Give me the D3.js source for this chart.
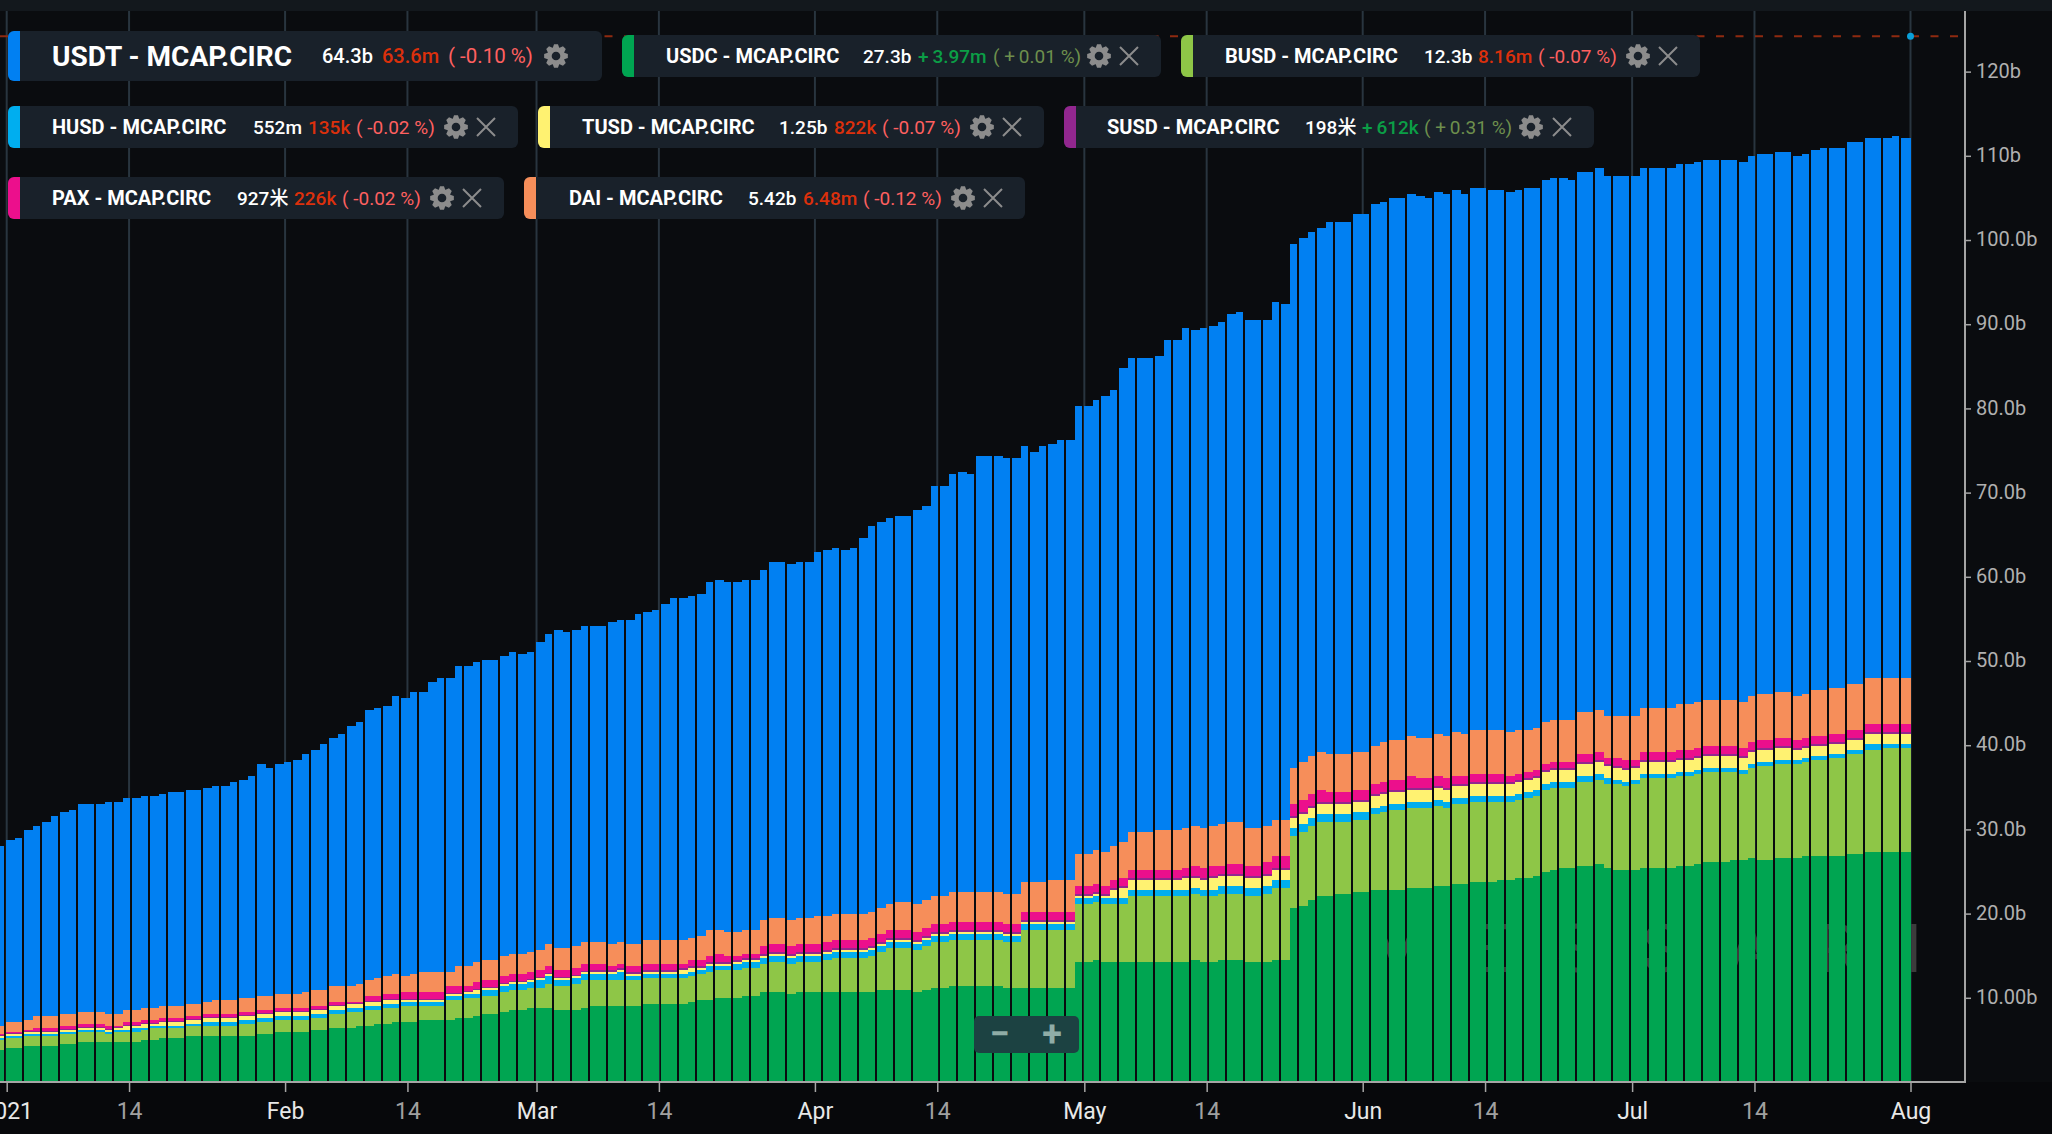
<!DOCTYPE html>
<html>
<head>
<meta charset="utf-8">
<script src="https://cdn.jsdelivr.net/npm/d3@7"></script>
<style>
  html, body { margin: 0; padding: 0; background: #0a0c0f; overflow: hidden; }
  svg { display: block; font-family: Roboto, "Noto Sans CJK SC", sans-serif; }
</style>
</head>
<body>
<svg id="chart" width="2052" height="1134"></svg>
<script>
// Values in billions, one per day from 2020-12-31 to 2021-07-31.
const usdc = [
  3.80,4.04,4.04,4.28,4.28,4.28,4.28,4.51,4.51,4.75,
  4.75,4.75,4.75,4.75,4.75,4.75,4.99,4.99,5.23,5.23,
  5.23,5.46,5.46,5.46,5.46,5.46,5.46,5.46,5.46,5.70,
  5.70,5.94,5.94,5.94,5.94,6.18,6.18,6.41,6.41,6.41,
  6.65,6.65,6.89,6.89,7.13,7.13,7.13,7.36,7.36,7.36,
  7.36,7.60,7.60,7.84,8.08,8.08,8.31,8.55,8.55,8.79,
  8.79,8.79,8.55,8.55,8.55,8.79,9.03,9.03,9.03,9.03,
  9.03,9.03,9.26,9.26,9.26,9.26,9.26,9.50,9.74,9.74,
  9.98,9.98,9.98,10.21,10.21,10.69,10.69,10.69,10.45,10.69,
  10.69,10.69,10.69,10.69,10.69,10.69,10.69,10.69,10.93,10.93,
  10.93,10.93,10.69,10.93,11.16,11.16,11.40,11.40,11.40,11.40,
  11.40,11.40,11.16,11.16,11.16,11.16,11.16,11.16,11.16,11.16,
  14.25,14.25,14.49,14.25,14.25,14.25,14.25,14.25,14.25,14.25,
  14.25,14.25,14.25,14.49,14.25,14.25,14.49,14.49,14.49,14.25,
  14.25,14.25,14.49,14.49,20.66,20.90,21.61,22.09,22.09,22.33,
  22.33,22.56,22.56,22.80,22.80,22.80,22.80,23.04,23.04,23.04,
  23.28,23.28,23.51,23.51,23.75,23.75,23.75,23.99,23.99,24.23,
  24.23,24.46,24.94,25.18,25.41,25.41,25.65,25.65,25.89,25.41,
  25.18,25.18,25.18,25.41,25.41,25.41,25.41,25.65,25.65,25.89,
  26.13,26.13,26.13,26.36,26.36,26.60,26.36,26.36,26.60,26.60,
  26.60,26.84,26.84,26.84,26.84,26.84,27.08,27.08,27.31,27.31,
  27.31,27.31,27.31
];
const busd = [
  1.19,1.19,1.19,1.19,1.19,1.19,1.19,1.19,1.19,1.19,
  1.19,1.19,0.95,1.19,1.19,1.19,1.19,1.43,1.19,1.19,
  1.19,1.19,1.19,1.19,1.19,1.19,1.19,1.43,1.43,1.43,
  1.43,1.43,1.43,1.43,1.43,1.43,1.43,1.66,1.66,1.90,
  1.66,1.90,1.66,1.90,1.66,1.90,1.90,1.66,1.66,1.66,
  2.38,2.14,2.38,2.14,2.14,2.14,2.38,2.38,2.38,2.38,
  2.38,2.85,2.85,2.85,3.09,3.33,3.09,3.09,3.09,3.09,
  3.09,3.09,3.09,3.09,3.09,3.09,3.09,3.09,3.09,3.33,
  3.33,3.33,3.33,3.33,3.33,3.33,3.56,3.56,3.56,3.56,
  3.56,3.56,3.80,4.04,4.04,4.04,4.04,4.28,4.51,4.99,
  4.99,4.99,4.99,5.23,5.46,5.46,5.46,5.46,5.46,5.46,
  5.46,5.46,5.46,5.46,6.89,6.89,6.89,6.89,6.89,6.89,
  6.89,6.89,6.89,6.89,6.89,6.89,7.84,7.84,7.84,7.84,
  7.84,7.84,7.84,7.84,7.84,7.84,7.84,7.84,7.84,7.84,
  7.84,8.08,8.55,8.55,8.55,8.79,8.79,8.79,8.79,8.55,
  8.55,8.55,8.55,9.03,9.26,9.50,9.50,9.50,9.50,9.50,
  9.50,9.26,9.50,9.50,9.50,9.50,9.50,9.26,9.26,9.26,
  9.50,9.50,9.74,9.74,9.50,9.50,9.98,9.98,9.98,9.98,
  10.21,9.98,10.21,10.69,10.69,10.69,10.69,10.69,10.69,10.69,
  10.69,10.69,10.69,10.45,10.21,10.69,11.16,11.16,11.16,11.16,
  11.16,11.16,11.40,11.40,11.64,11.64,11.88,11.88,12.11,12.11,
  12.35,12.35,12.35
];
const husd = [
  0.24,0.24,0.24,0.24,0.24,0.24,0.24,0.24,0.24,0.24,
  0.24,0.24,0.24,0.24,0.24,0.48,0.24,0.24,0.24,0.24,
  0.24,0.24,0.24,0.48,0.48,0.48,0.48,0.48,0.48,0.48,
  0.48,0.48,0.48,0.48,0.48,0.48,0.48,0.48,0.48,0.48,
  0.48,0.48,0.48,0.48,0.48,0.48,0.48,0.48,0.48,0.48,
  0.48,0.48,0.48,0.48,0.71,0.71,0.71,0.71,0.71,0.71,
  0.95,0.95,0.71,0.71,0.71,0.71,0.71,0.71,0.71,0.95,
  0.48,0.48,0.48,0.48,0.48,0.48,0.48,0.48,0.48,0.71,
  0.48,0.48,0.71,0.71,0.71,0.71,0.71,0.71,0.71,0.71,
  0.71,0.71,0.71,0.71,0.71,0.71,0.71,0.71,0.71,0.71,
  0.71,0.71,0.71,0.71,0.71,0.71,0.71,0.71,0.71,0.71,
  0.71,0.71,0.71,0.71,0.71,0.71,0.71,0.71,0.71,0.71,
  0.71,0.71,0.71,0.71,0.71,0.71,0.71,0.71,0.71,0.71,
  0.71,0.71,0.71,0.71,0.71,0.71,0.95,0.95,0.95,0.95,
  0.95,0.95,0.95,0.95,0.95,0.95,0.95,0.95,0.95,0.95,
  0.95,0.95,0.95,0.71,0.71,0.71,0.71,0.71,0.71,0.71,
  0.71,0.71,0.71,0.71,0.71,0.71,0.71,0.71,0.71,0.71,
  0.71,0.71,0.71,0.71,0.71,0.71,0.71,0.71,0.71,0.71,
  0.48,0.48,0.48,0.48,0.48,0.48,0.48,0.48,0.48,0.48,
  0.48,0.48,0.48,0.48,0.48,0.48,0.48,0.48,0.48,0.48,
  0.48,0.48,0.48,0.48,0.48,0.48,0.48,0.48,0.71,0.71,
  0.48,0.48,0.48
];
const tusd = [
  0.24,0.24,0.24,0.24,0.24,0.24,0.24,0.24,0.24,0.24,
  0.24,0.24,0.24,0.24,0.48,0.24,0.48,0.24,0.48,0.48,
  0.48,0.48,0.48,0.48,0.48,0.48,0.48,0.48,0.48,0.48,
  0.48,0.48,0.48,0.48,0.48,0.48,0.48,0.48,0.48,0.48,
  0.48,0.48,0.48,0.48,0.48,0.24,0.24,0.24,0.24,0.24,
  0.24,0.24,0.24,0.48,0.24,0.24,0.24,0.24,0.24,0.24,
  0.24,0.24,0.24,0.24,0.24,0.24,0.24,0.24,0.24,0.24,
  0.24,0.24,0.24,0.24,0.24,0.24,0.48,0.48,0.24,0.24,
  0.24,0.24,0.24,0.24,0.24,0.24,0.24,0.24,0.24,0.24,
  0.24,0.24,0.24,0.24,0.24,0.24,0.24,0.24,0.24,0.24,
  0.24,0.24,0.24,0.24,0.24,0.24,0.24,0.24,0.24,0.24,
  0.24,0.24,0.24,0.24,0.24,0.24,0.24,0.24,0.24,0.24,
  0.24,0.24,0.24,0.24,0.95,1.19,1.19,1.19,1.19,1.19,
  1.19,1.19,1.43,1.19,1.19,1.43,1.19,1.19,1.19,1.19,
  1.19,1.19,1.19,1.19,1.19,1.19,1.19,1.19,1.19,1.19,
  1.19,1.19,1.19,1.43,1.43,1.43,1.43,1.43,1.43,1.43,
  1.43,1.43,1.43,1.43,1.43,1.43,1.43,1.43,1.43,1.43,
  1.43,1.43,1.43,1.43,1.43,1.43,1.43,1.43,1.43,1.43,
  1.43,1.43,1.43,1.43,1.43,1.43,1.43,1.43,1.43,1.43,
  1.43,1.43,1.43,1.43,1.43,1.43,1.43,1.43,1.43,1.43,
  1.19,1.19,1.19,1.19,1.19,1.19,1.19,1.19,1.19,1.19,
  1.19,1.19,1.19
];
const susd = [
  0.12,0.12,0.12,0.12,0.12,0.12,0.12,0.12,0.12,0.12,
  0.12,0.12,0.12,0.12,0.12,0.12,0.12,0.12,0.12,0.12,
  0.12,0.12,0.12,0.12,0.12,0.12,0.12,0.12,0.12,0.12,
  0.12,0.12,0.12,0.12,0.12,0.12,0.12,0.12,0.12,0.12,
  0.12,0.12,0.12,0.12,0.12,0.12,0.12,0.12,0.12,0.12,
  0.12,0.12,0.12,0.12,0.12,0.12,0.12,0.12,0.12,0.12,
  0.12,0.12,0.12,0.12,0.12,0.12,0.24,0.24,0.24,0.24,
  0.24,0.24,0.24,0.24,0.24,0.24,0.24,0.24,0.24,0.24,
  0.24,0.24,0.24,0.24,0.24,0.24,0.24,0.24,0.24,0.24,
  0.24,0.24,0.24,0.24,0.24,0.24,0.24,0.24,0.24,0.24,
  0.24,0.24,0.24,0.24,0.24,0.24,0.24,0.24,0.24,0.24,
  0.24,0.24,0.24,0.24,0.24,0.24,0.24,0.24,0.24,0.24,
  0.24,0.24,0.24,0.24,0.24,0.24,0.24,0.24,0.24,0.24,
  0.24,0.24,0.24,0.24,0.24,0.24,0.24,0.24,0.24,0.24,
  0.24,0.24,0.24,0.24,0.24,0.24,0.24,0.24,0.24,0.24,
  0.24,0.24,0.24,0.24,0.24,0.24,0.24,0.24,0.24,0.24,
  0.24,0.24,0.24,0.24,0.24,0.24,0.24,0.24,0.24,0.24,
  0.24,0.24,0.24,0.24,0.24,0.24,0.24,0.24,0.24,0.24,
  0.24,0.24,0.24,0.24,0.24,0.24,0.24,0.24,0.24,0.24,
  0.24,0.24,0.24,0.24,0.24,0.24,0.24,0.24,0.24,0.24,
  0.24,0.24,0.24,0.24,0.24,0.24,0.24,0.24,0.24,0.24,
  0.24,0.24,0.24
];
const pax = [
  0.12,0.12,0.12,0.12,0.36,0.36,0.36,0.36,0.36,0.36,
  0.36,0.36,0.36,0.12,0.36,0.36,0.36,0.36,0.36,0.36,
  0.36,0.36,0.36,0.36,0.36,0.36,0.36,0.36,0.36,0.36,
  0.36,0.36,0.36,0.36,0.36,0.36,0.36,0.36,0.36,0.12,
  0.12,0.59,0.59,0.59,0.59,0.83,0.83,0.83,0.83,0.83,
  0.83,0.83,0.59,0.83,0.83,0.83,0.83,0.83,0.83,0.83,
  0.83,0.83,0.83,0.83,0.83,0.83,0.71,0.71,0.48,0.48,
  0.71,0.71,0.71,0.71,0.71,0.71,0.48,0.71,0.71,0.71,
  0.95,0.71,0.48,0.48,0.48,0.95,0.95,0.95,0.95,0.95,
  0.95,0.95,0.95,0.95,0.95,0.95,0.95,0.95,0.95,0.95,
  0.95,0.95,0.95,0.95,0.95,0.95,0.95,0.95,0.95,0.95,
  0.95,0.95,0.95,0.95,0.95,0.95,0.95,0.95,0.95,0.95,
  0.95,0.95,0.95,0.95,0.95,0.95,0.95,0.95,0.95,0.95,
  0.95,0.95,0.95,1.19,1.19,1.19,0.95,1.19,1.19,1.19,
  1.19,1.43,1.43,1.43,1.43,1.43,1.43,1.43,1.19,1.19,
  1.19,1.19,1.19,1.19,1.19,1.19,1.19,1.43,1.19,1.19,
  1.19,1.19,0.95,0.95,0.95,0.95,0.95,0.95,0.71,0.71,
  0.71,0.71,0.71,0.71,0.71,0.71,0.95,0.95,0.95,0.71,
  0.95,0.95,0.71,0.95,0.95,0.95,0.95,0.95,0.95,0.95,
  0.95,0.95,0.95,0.95,0.95,0.95,0.95,0.95,0.95,0.95,
  0.95,0.95,0.95,0.95,0.95,0.95,0.95,0.95,0.95,0.95,
  0.95,0.95,0.95
];
const dai = [
  0.95,1.19,1.19,1.19,1.43,1.43,1.43,1.43,1.43,1.43,
  1.43,1.43,1.43,1.43,1.43,1.43,1.43,1.43,1.43,1.43,
  1.43,1.43,1.43,1.43,1.66,1.66,1.66,1.66,1.66,1.66,
  1.66,1.66,1.66,1.66,1.90,1.90,1.90,1.90,1.90,1.90,
  2.14,1.90,2.14,2.14,2.38,1.90,2.14,2.38,2.38,2.38,
  1.66,2.38,2.38,2.38,2.38,2.38,2.38,2.38,2.38,2.38,
  2.38,2.61,2.61,2.61,2.61,2.61,2.61,2.61,2.61,2.61,
  2.61,2.61,2.85,2.85,2.85,2.85,2.85,2.61,2.85,3.09,
  2.85,2.85,2.85,2.85,2.85,3.09,3.09,3.09,3.09,3.09,
  3.09,3.33,3.09,3.09,3.09,3.09,3.09,3.09,3.09,3.09,
  3.33,3.33,3.33,3.33,3.33,3.33,3.56,3.56,3.56,3.56,
  3.56,3.56,3.56,3.56,3.56,3.56,3.56,3.80,3.80,3.80,
  3.80,3.80,4.04,4.04,4.04,4.28,4.51,4.51,4.51,4.75,
  4.75,4.75,4.75,4.75,4.75,4.75,4.99,4.99,4.99,4.51,
  4.51,4.28,4.28,4.28,4.28,4.51,4.51,4.51,4.51,4.51,
  4.51,4.51,4.51,4.51,4.75,4.75,4.75,4.75,4.75,4.75,
  4.99,4.99,5.23,4.99,5.23,5.23,5.23,5.23,5.23,5.23,
  4.99,4.99,4.99,4.99,4.99,4.99,4.99,4.99,4.99,4.99,
  4.99,5.23,5.23,5.23,5.23,5.23,5.23,5.46,5.46,5.46,
  5.46,5.46,5.46,5.46,5.46,5.46,5.46,5.46,5.46,5.46,
  5.23,5.23,5.46,5.46,5.46,5.46,5.46,5.46,5.46,5.46,
  5.46,5.46,5.46
];
const usdt = [
  21.38,21.61,21.85,22.56,22.56,23.04,23.75,23.99,24.23,24.70,
  24.70,24.70,25.18,25.18,25.18,25.18,25.18,25.18,25.18,25.41,
  25.41,25.41,25.41,25.41,25.41,25.41,25.89,25.89,26.36,27.55,
  27.08,27.31,27.55,27.79,28.26,28.50,29.21,29.45,29.93,30.88,
  31.11,32.06,32.06,32.06,33.01,33.01,33.49,33.25,34.44,34.91,
  34.91,35.63,35.63,35.63,35.63,35.63,35.63,35.86,35.63,35.63,
  36.58,36.81,37.76,37.53,37.53,37.53,37.53,37.53,38.24,38.24,
  38.48,39.19,38.95,39.19,39.90,40.61,40.61,40.61,40.61,41.33,
  41.56,41.56,41.56,41.56,41.56,41.56,42.28,42.28,42.28,42.28,
  42.28,43.23,43.46,43.46,43.23,43.46,44.65,45.84,45.84,45.84,
  45.84,45.84,46.79,46.79,48.69,48.69,49.64,49.88,49.64,51.78,
  51.78,51.78,51.78,51.78,51.78,51.06,51.78,51.78,52.25,52.25,
  53.20,53.20,53.44,54.15,54.15,56.29,56.29,56.29,56.29,56.29,
  58.19,58.19,59.38,58.90,59.38,59.38,59.61,60.33,60.56,60.33,
  60.33,60.09,61.51,61.28,62.23,62.23,62.23,62.23,63.18,63.18,
  63.18,63.89,63.89,64.36,64.13,64.36,64.36,64.36,64.36,64.13,
  64.36,64.36,64.36,64.13,64.36,64.36,64.13,64.13,64.13,64.13,
  64.36,64.13,64.36,64.36,64.36,64.13,64.13,64.13,64.36,64.13,
  64.13,64.13,64.13,64.13,64.13,64.13,64.13,64.13,64.13,64.13,
  64.13,64.13,64.13,64.13,64.13,64.13,64.13,64.13,64.13,64.13,
  64.13,64.13,64.13,64.36,64.13,64.13,64.36,64.36,64.13,64.13,
  64.13,64.37,64.13
];

const seriesKeys = ['usdc', 'busd', 'husd', 'tusd', 'susd', 'pax', 'dai', 'usdt'];
const seriesValues = [usdc, busd, husd, tusd, susd, pax, dai, usdt];
const seriesColors = ['#00a551', '#8ec647', '#00aeef', '#fff271', '#92278f', '#ec0f8c', '#f68e5a', '#0180f2'];

const xTickDates = ['2021-01-01', '2021-01-14T15:00', '2021-02-01', '2021-02-14T15:00', '2021-03-01', '2021-03-14T15:00',
  '2021-04-01', '2021-04-14T15:00', '2021-05-01', '2021-05-14T15:00', '2021-06-01', '2021-06-14T15:00',
  '2021-07-01', '2021-07-14T15:00', '2021-08-01'];
const xTickLabels = ['2021', '14', 'Feb', '14', 'Mar', '14', 'Apr', '14', 'May', '14', 'Jun', '14', 'Jul', '14', 'Aug'];
const yTickValues = [10, 20, 30, 40, 50, 60, 70, 80, 90, 100, 110, 120];
const yTickLabels = ['10.00b', '20.0b', '30.0b', '40.0b', '50.0b', '60.0b', '70.0b', '80.0b', '90.0b', '100.0b', '110b', '120b'];
const markerValue = 124.2;

const legendNames = ['USDT - MCAP.CIRC', 'USDC - MCAP.CIRC', 'BUSD - MCAP.CIRC', 'HUSD - MCAP.CIRC', 'TUSD - MCAP.CIRC', 'SUSD - MCAP.CIRC', 'PAX - MCAP.CIRC', 'DAI - MCAP.CIRC'];
const legendValues = ['64.3b', '27.3b', '12.3b', '552m', '1.25b', '198米', '927米', '5.42b'];
const legendChanges = ['63.6m', '+\u20093.97m', '8.16m', '135k', '822k', '+\u2009612k', '226k', '6.48m'];
const legendPercents = ['( -0.10 %)', '( +\u20090.01 %)', '( -0.07 %)', '( -0.02 %)', '( -0.07 %)', '( +\u20090.31 %)', '( -0.02 %)', '( -0.12 %)'];
const legendColors = ['#0180f2', '#00a551', '#8ec647', '#00aeef', '#fff271', '#92278f', '#ec0f8c', '#f68e5a'];

// layout of the legend chips, in page pixels
const chipLayout = [
  { x: 8, y: 31, w: 594, h: 50, name: 52, value: 322, change: 382, pct: 448, gear: 556, close: null, size: 28 },
  { x: 622, y: 35, w: 539, h: 42, name: 666, value: 863, change: 918, pct: 993, gear: 1099, close: 1129, size: 20 },
  { x: 1181, y: 35, w: 519, h: 42, name: 1225, value: 1424, change: 1478, pct: 1538, gear: 1638, close: 1668, size: 20 },
  { x: 8, y: 106, w: 510, h: 42, name: 52, value: 253, change: 308, pct: 356, gear: 456, close: 486, size: 20 },
  { x: 538, y: 106, w: 506, h: 42, name: 582, value: 779, change: 834, pct: 882, gear: 982, close: 1012, size: 20 },
  { x: 1064, y: 106, w: 530, h: 42, name: 1107, value: 1305, change: 1362, pct: 1424, gear: 1531, close: 1562, size: 20 },
  { x: 8, y: 177, w: 496, h: 42, name: 52, value: 237, change: 294, pct: 342, gear: 442, close: 472, size: 20 },
  { x: 524, y: 177, w: 501, h: 42, name: 569, value: 748, change: 803, pct: 863, gear: 963, close: 993, size: 20 }
];

const svg = d3.select('#chart');
const baseY = 1082, topY = 11, axisX = 1965;

const days = d3.utcDays(new Date(Date.UTC(2020, 11, 31)), new Date(Date.UTC(2021, 7, 1)));
const x = d3.scaleUtc().domain([new Date('2021-01-01T00:00Z'), new Date('2021-08-01T00:00Z')]).range([6.7, 1910.5]);
const y = d3.scaleLinear().domain([0, 127.2]).range([baseY, topY]);
const tickDates = xTickDates.map(s => new Date(s + (s.length > 10 ? 'Z' : 'T00:00Z')));

// background bands
svg.append('rect').attr('width', 2052).attr('height', 1134).attr('fill', '#0a0c0f');
svg.append('rect').attr('y', baseY).attr('width', 2052).attr('height', 1134 - baseY).attr('fill', '#07080b');
svg.append('rect').attr('width', 2052).attr('height', topY).attr('fill', '#13181d');

// watermark sits behind the bars, only the gaps let it through
svg.append('text')
  .attr('x', 1368).attr('y', 972)
  .attr('font-size', 66).attr('font-weight', 400)
  .attr('letter-spacing', 46.5)
  .attr('fill', '#3c3c3c')
  .text('MESSARI');

// vertical grid
svg.append('g').selectAll('line').data(tickDates).join('line')
  .attr('x1', d => x(d)).attr('x2', d => x(d))
  .attr('y1', topY).attr('y2', baseY)
  .attr('stroke', '#29353f').attr('stroke-width', 2);

// stacked bars
const rows = days.map((d, i) => {
  const row = { date: d };
  seriesKeys.forEach((k, s) => { row[k] = seriesValues[s][i]; });
  return row;
});
const layers = d3.stack().keys(seriesKeys)(rows);

// the source chart drops a 2px gap every second bar, with a three bar group every 55 days
function gapBefore(n) {
  if (n <= 46) return n % 2 === 0;
  if (n <= 101) return n >= 49 && n % 2 !== 0;
  if (n <= 156) return n >= 104 && n % 2 === 0;
  return n >= 159 && n % 2 !== 0;
}

svg.append('g').attr('shape-rendering', 'crispEdges').selectAll('g')
  .data(layers).join('g')
  .attr('fill', (d, i) => seriesColors[i])
  .selectAll('rect')
  .data(d => d).join('rect')
  .attr('x', (d, i) => Math.round(x(d.data.date) - 0.8))
  .attr('width', (d, i) => {
    const n = i - 1;
    const left = Math.round(x(d.data.date) - 0.8);
    const next = d3.utcDay.offset(d.data.date, 1);
    if (n === 211) return x(next) - left;
    const right = Math.round(x(next) - 0.8) - (gapBefore(n + 1) ? 2 : 0);
    return right - left;
  })
  .attr('y', d => y(d[1]))
  .attr('height', d => y(d[0]) - y(d[1]));

// price line and marker on the last bar
svg.append('line')
  .attr('x1', 0).attr('x2', axisX - 6)
  .attr('y1', y(markerValue)).attr('y2', y(markerValue))
  .attr('stroke', '#8f2a10').attr('stroke-width', 2)
  .attr('stroke-dasharray', '8 11.5');
svg.append('circle')
  .attr('cx', x(tickDates[tickDates.length - 1])).attr('cy', y(markerValue)).attr('r', 3.5)
  .attr('fill', '#0a9fd8');

// axes
const xAxis = d3.axisBottom(x)
  .tickValues(tickDates)
  .tickFormat((d, i) => xTickLabels[i])
  .tickSize(10).tickPadding(11);
const xg = svg.append('g').attr('transform', `translate(0,${baseY})`).call(xAxis);
xg.select('.domain').remove();
xg.selectAll('line').attr('stroke', '#a5a5a5').attr('stroke-width', 1.5);
xg.selectAll('text')
  .attr('font-family', 'Roboto').attr('font-size', 23)
  .attr('fill', (d, i) => xTickLabels[i] === '14' ? '#a0a0a0' : '#e8e8e8');

const yAxis = d3.axisRight(y)
  .tickValues(yTickValues)
  .tickFormat((d, i) => yTickLabels[i])
  .tickSize(6).tickPadding(5);
const yg = svg.append('g').attr('transform', `translate(${axisX},0)`).call(yAxis);
yg.select('.domain').remove();
yg.selectAll('line').attr('stroke', '#a5a5a5').attr('stroke-width', 1.5);
yg.selectAll('text')
  .attr('font-family', 'Roboto').attr('font-size', 20).attr('fill', '#b0b0b0').attr('dy', '0.28em');

svg.append('line').attr('x1', 0).attr('x2', axisX + 1).attr('y1', baseY).attr('y2', baseY)
  .attr('stroke', '#a5a5a5').attr('stroke-width', 2);
svg.append('line').attr('x1', axisX).attr('x2', axisX).attr('y1', topY).attr('y2', baseY)
  .attr('stroke', '#a5a5a5').attr('stroke-width', 2);

// zoom buttons
const zoomBox = svg.append('g');
zoomBox.append('rect').attr('x', 974).attr('y', 1016).attr('width', 105).attr('height', 37).attr('rx', 5)
  .attr('fill', '#1c4242');
zoomBox.selectAll('text').data(['−', '+']).join('text')
  .attr('x', (d, i) => i === 0 ? 999.5 : 1052).attr('y', 1046)
  .attr('text-anchor', 'middle').attr('font-size', 36).attr('font-weight', 700)
  .attr('fill', '#8fada6')
  .text(d => d);

// gear with a hole in the middle
function gearPath(r) {
  const teeth = 8, pts = [];
  for (let i = 0; i < teeth; i++) {
    const a = i / teeth * 2 * Math.PI;
    const w = Math.PI / teeth;
    [[-w * 0.95, r * 0.74], [-w * 0.42, r], [w * 0.42, r], [w * 0.95, r * 0.74]].forEach(([da, rr]) => {
      pts.push([rr * Math.sin(a + da), -rr * Math.cos(a + da)]);
    });
  }
  const ring = d3.path();
  ring.moveTo(r * 0.36, 0);
  ring.arc(0, 0, r * 0.36, 0, 2 * Math.PI);
  return 'M' + pts.map(p => p.join(',')).join('L') + 'Z' + ring.toString();
}

// legend chips
const chips = svg.append('g').selectAll('g').data(chipLayout).join('g');
chips.append('rect')
  .attr('x', d => d.x).attr('y', d => d.y).attr('width', d => d.w).attr('height', d => d.h).attr('rx', 6)
  .attr('fill', '#19212a');
chips.append('rect')
  .attr('x', d => d.x).attr('y', d => d.y).attr('width', 12).attr('height', d => d.h).attr('rx', 6)
  .attr('fill', (d, i) => legendColors[i]);
chips.append('rect')
  .attr('x', d => d.x + 6).attr('y', d => d.y).attr('width', 6).attr('height', d => d.h)
  .attr('fill', (d, i) => legendColors[i]);

const chipText = (cls, xKey, fontSize, weight, fill, strings) => chips.append('text')
  .attr('class', cls)
  .attr('x', d => d[xKey]).attr('y', d => d.y + d.h / 2)
  .attr('dy', '0.35em')
  .attr('font-size', fontSize).attr('font-weight', weight)
  .attr('fill', fill)
  .text((d, i) => strings[i]);

const isUp = i => legendChanges[i].startsWith('+');
chipText('name', 'name', d => d.size, 700, '#ffffff', legendNames);
chipText('value', 'value', d => d.size === 28 ? 20 : 19, 500, '#ffffff', legendValues);
chipText('change', 'change', d => d.size === 28 ? 20 : 19, 500, (d, i) => isUp(i) ? '#0b9e46' : '#dc300c', legendChanges);
chipText('pct', 'pct', d => d.size === 28 ? 20.5 : 19, 400, (d, i) => isUp(i) ? '#6e8f4d' : '#ff6060', legendPercents);

chips.append('path')
  .attr('transform', d => `translate(${d.gear},${d.y + d.h / 2})`)
  .attr('d', gearPath(12)).attr('fill-rule', 'evenodd')
  .attr('fill', '#8c8c8c');
chips.filter(d => d.close !== null).append('path')
  .attr('transform', d => `translate(${d.close},${d.y + d.h / 2})`)
  .attr('d', 'M-9,-9L9,9M-9,9L9,-9')
  .attr('stroke', '#8c8c8c').attr('stroke-width', 2).attr('fill', 'none');
</script>
</body>
</html>
